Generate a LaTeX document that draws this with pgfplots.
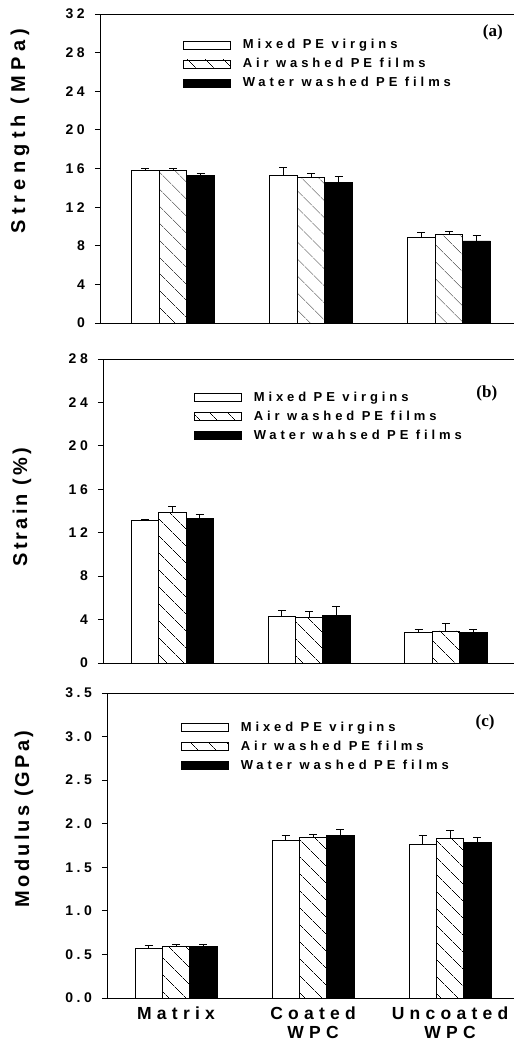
\documentclass[border=0pt]{standalone}
\usepackage{fontspec}
\setmainfont{Liberation Sans}
\newfontfamily\ticfont[LetterSpace=25]{Liberation Sans}
\newfontfamily\labA[LetterSpace=26]{Liberation Sans}
\newfontfamily\labB[LetterSpace=16]{Liberation Sans}
\newfontfamily\legfont[LetterSpace=30, WordSpace=1.6]{Liberation Sans}
\newfontfamily\xfont[LetterSpace=30]{Liberation Sans}
\newfontfamily\serifb{Liberation Serif}
\usepackage{pgfplots}
\pgfplotsset{compat=1.18}
\usetikzlibrary{patterns.meta}
\pgfplotsset{
  leg/.style={legend image code/.code={\draw[##1,/tikz/.cd,line width=0.8pt] (0pt,0pt) rectangle (47pt,8pt);}},
  mystyle/.style={
    scale only axis, clip=false,
    axis lines=left, axis line style={-, line width=0.8pt},
    tick align=outside, major tick length=5pt, tick style={black, line width=0.8pt},
    ymin=0, xtick=\empty,
    ybar, bar width=0.2,
    /pgf/number format/assume math mode=true,
    yticklabel style={font=\ticfont\bfseries\fontsize{14pt}{16pt}\selectfont, inner sep=0pt, xshift=-10pt},
    legend cell align=left,
    legend style={draw=none, fill=none, inner sep=0pt, outer sep=0pt, anchor=north west,
      row sep=0pt, column sep=12pt,
      nodes={inner sep=0pt, text height=12pt, text depth=7pt, anchor=base west,
        font=\legfont\bfseries\fontsize{13pt}{15pt}\selectfont}},
    every axis plot/.append style={draw=black, line width=0.8pt,
      error bars/y dir=plus, error bars/y explicit,
      error bars/error bar style={line width=0.8pt, black, solid},
      error bars/error mark options={rotate=90, mark size=4pt, line width=0.8pt, black}},
  },
  hatch/.style={pattern={Lines[angle=-45,distance=13pt,line width=0.6pt]}, pattern color=black},
}
\begin{document}
\begin{tikzpicture}
\useasboundingbox (0pt,0pt) rectangle (514pt,1047pt);
% ---------------- (a) ----------------
\begin{axis}[mystyle, at={(100pt,724pt)}, anchor=south west, width=414pt, height=309pt,
  xmin=-0.529, xmax=2.471, ymax=32, ytick={0,4,...,32},
  ylabel={Strength (MPa)},
  ylabel style={at={(axis description cs:-0.193,0.621)}, anchor=center,
    font=\labA\bfseries\fontsize{20pt}{24pt}\selectfont},
  legend style={at={(axis description cs:0.2005,0.9256)}}]
\addplot[fill=white, bar shift=-0.2, leg] coordinates {(0,15.8) +- (0,0.24) (1,15.3) +- (0,0.8) (2,8.9) +- (0,0.52)};
\addplot[hatch, bar shift=0, leg] coordinates {(0,15.8) +- (0,0.2) (1,15.1) +- (0,0.41) (2,9.2) +- (0,0.24)};
\addplot[fill=black, bar shift=0.2, leg] coordinates {(0,15.25) +- (0,0.25) (1,14.6) +- (0,0.59) (2,8.5) +- (0,0.59)};
\legend{Mixed PE virgins, Air washed PE films, Water washed PE films}
\draw[line width=0.8pt] (rel axis cs:0,1) -- (rel axis cs:1,1);
\node[font=\serifb\bfseries\fontsize{17pt}{19pt}\selectfont] at (rel axis cs:0.949,0.939) {(a)};
\end{axis}
% ---------------- (b) ----------------
\begin{axis}[mystyle, at={(103pt,384pt)}, anchor=south west, width=411pt, height=304pt,
  xmin=-0.507, xmax=2.498, ymax=28, ytick={0,4,...,28},
  ylabel={Strain (\%)},
  ylabel style={at={(axis description cs:-0.197,0.513)}, anchor=center,
    font=\labB\bfseries\fontsize{20pt}{24pt}\selectfont},
  legend style={at={(axis description cs:0.2214,0.901)}}]
\addplot[fill=white, bar shift=-0.2, leg] coordinates {(0,13.1) +- (0,0.12) (1,4.27) +- (0,0.61) (2,2.8) +- (0,0.25)};
\addplot[hatch, bar shift=0, leg] coordinates {(0,13.84) +- (0,0.61) (1,4.2) +- (0,0.52) (2,2.95) +- (0,0.7)};
\addplot[fill=black, bar shift=0.2, leg] coordinates {(0,13.3) +- (0,0.4) (1,4.36) +- (0,0.89) (2,2.8) +- (0,0.3)};
\legend{Mixed PE virgins, Air washed PE films, Water wahsed PE films}
\draw[line width=0.8pt] (rel axis cs:0,1) -- (rel axis cs:1,1);
\node[font=\serifb\bfseries\fontsize{17pt}{19pt}\selectfont] at (rel axis cs:0.934,0.888) {(b)};
\end{axis}
% ---------------- (c) ----------------
\begin{axis}[mystyle, at={(107pt,49pt)}, anchor=south west, width=407pt, height=305pt,
  xmin=-0.504, xmax=2.467, ymax=3.5, ytick={0,0.5,...,3.5},
  /pgf/number format/fixed, /pgf/number format/fixed zerofill, /pgf/number format/precision=1,
  xtick={0,1,2}, xticklabels={Matrix,{Coated\\WPC},{Uncoated\\WPC}},
  xtick style={draw=none},
  xticklabel style={align=center, font=\xfont\bfseries\fontsize{17.5pt}{19.5pt}\selectfont},
  ylabel={Modulus (GPa)},
  ylabel style={at={(axis description cs:-0.204,0.587)}, anchor=center,
    font=\labB\bfseries\fontsize{20pt}{24pt}\selectfont},
  legend style={at={(axis description cs:0.1818,0.9125)}}]
\addplot[fill=white, bar shift=-0.2, leg] coordinates {(0,0.566) +- (0,0.042) (1,1.81) +- (0,0.054) (2,1.757) +- (0,0.107)};
\addplot[hatch, bar shift=0, leg] coordinates {(0,0.589) +- (0,0.027) (1,1.84) +- (0,0.034) (2,1.833) +- (0,0.088)};
\addplot[fill=black, bar shift=0.2, leg] coordinates {(0,0.589) +- (0,0.027) (1,1.868) +- (0,0.069) (2,1.787) +- (0,0.054)};
\legend{Mixed PE virgins, Air washed PE films, Water washed PE films}
\draw[line width=0.8pt] (rel axis cs:0,1) -- (rel axis cs:1,1);
\node[font=\serifb\bfseries\fontsize{17pt}{19pt}\selectfont] at (rel axis cs:0.929,0.905) {(c)};
\end{axis}
\end{tikzpicture}
\end{document}
